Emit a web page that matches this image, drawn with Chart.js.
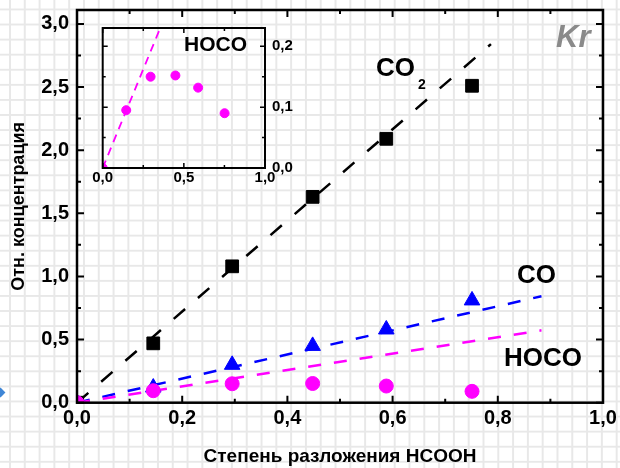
<!DOCTYPE html>
<html>
<head>
<meta charset="utf-8">
<script src="https://cdn.jsdelivr.net/npm/chart.js@4/dist/chart.umd.min.js"></script>
<style>
    body { margin: 0; }
    #wrap {
        position: relative;
        width: 620px;
        height: 468px;
        overflow: hidden;
        background-color: #fff;
        background-image:
            linear-gradient(to right, #e8e8e8 2px, transparent 2px),
            linear-gradient(to bottom, #e8e8e8 2px, transparent 2px);
        background-size: 14.8px 15.08px;
        background-position: 9px 8.5px;
        font-family: "Liberation Sans", Arial, sans-serif;
        font-weight: bold;
    }
    canvas { position: absolute; }
    #main { left: 0; top: 0; }
    #inset { left: 90px; top: 18px; }
    .lbl { position: absolute; line-height: 1; white-space: nowrap; color: #000; }
    .bullet {
        position: absolute; left: -3px; top: 389px; width: 7px; height: 7px;
        background: #3f86d6; transform: rotate(45deg);
    }
</style>
</head>
<body>
<div id="wrap">
    <div class="bullet"></div>
    <canvas id="main" width="620" height="468"></canvas>
    <canvas id="inset" width="215" height="180"></canvas>
    <div class="lbl" style="left:376px; top:54px; font-size:26px;">CO</div>
    <div class="lbl" style="left:418px; top:77px; font-size:14px;">2</div>
    <div class="lbl" style="left:517px; top:261px; font-size:26px;">CO</div>
    <div class="lbl" style="left:504px; top:344px; font-size:26px;">HOCO</div>
    <div class="lbl" style="left:184px; top:33px; font-size:21px;">HOCO</div>
    <div class="lbl" style="left:556px; top:21px; font-size:31px; font-style:italic; color:#8a8a8a;">Kr</div>
</div>
<script>
// degree of HCOOH decomposition (x) and relative concentrations
var fraction = [0, 0.145, 0.295, 0.448, 0.588, 0.751];
var co2 = [0, 0.47, 1.08, 1.63, 2.09, 2.51];
var co = [0, 0.12, 0.30, 0.45, 0.58, 0.81];
var hoco = [0, 0.095, 0.15, 0.152, 0.132, 0.09];

// dashed linear fits through the origin
var co2FitX = [0, 0.787];
var co2Fit = [0, 2.84];
var fitX = [0, 0.883];
var coFit = [0, 0.843];
var hocoFit = [0, 0.573];

var xTicks = [0, 0.2, 0.4, 0.6, 0.8, 1.0];
var yTicks = [0, 0.5, 1.0, 1.5, 2.0, 2.5, 3.0];
var insetXTicks = [0, 0.5, 1.0];
var insetYTicks = [0, 0.1, 0.2];

var FONT = "'Liberation Sans', Arial, sans-serif";

function pts(xs, ys) {
    return xs.map(function (x, i) { return { x: x, y: ys[i] }; });
}

function fmt(v) {
    return v.toFixed(1).replace(".", ",");
}

// box around the plot area with inward major and minor ticks on all sides
var frame = {
    id: "frame",
    afterDatasetsDraw: function (chart, args, opts) {
        var ctx = chart.ctx;
        var a = chart.chartArea;
        ctx.save();
        ctx.strokeStyle = "#000";
        ctx.lineWidth = opts.width;
        ctx.strokeRect(a.left, a.top, a.right - a.left, a.bottom - a.top);
        ctx.lineWidth = opts.tickWidth;

        function mark(scale, v, len) {
            var p = scale.getPixelForValue(v);
            ctx.beginPath();
            if (scale.isHorizontal()) {
                ctx.moveTo(p, a.bottom); ctx.lineTo(p, a.bottom - len);
                ctx.moveTo(p, a.top); ctx.lineTo(p, a.top + len);
            } else {
                ctx.moveTo(a.left, p); ctx.lineTo(a.left + len, p);
                ctx.moveTo(a.right, p); ctx.lineTo(a.right - len, p);
            }
            ctx.stroke();
        }

        [chart.scales.x, chart.scales.y].forEach(function (scale) {
            var vals = scale.ticks.map(function (t) { return t.value; });
            vals.forEach(function (v, i) {
                mark(scale, v, opts.major);
                if (i > 0) mark(scale, (v + vals[i - 1]) / 2, opts.minor);
            });
        });
        ctx.restore();
    }
};

function fixedTicks(list) {
    return function (scale) {
        scale.ticks = list.map(function (v) { return { value: v }; });
    };
}

// fixed axis box sizes, no extra room for overhanging labels
function boxHeight(h) {
    return function (s) { s.height = h; s.paddingLeft = 0; s.paddingRight = 0; };
}
function boxWidth(w) {
    return function (s) { s.width = w; s.paddingTop = 0; s.paddingBottom = 0; };
}

new Chart(document.getElementById("main"), {
    type: "scatter",
    data: {
        datasets: [
            {
                data: pts(fraction, hoco),
                pointStyle: "circle",
                pointRadius: 7,
                backgroundColor: "#ff00ff",
                borderColor: "#ff00ff",
            },
            {
                data: pts(fraction, co),
                pointStyle: "triangle",
                pointRadius: 9,
                backgroundColor: "#0000ff",
                borderColor: "#0000ff",
            },
            {
                data: pts(fraction, co2),
                pointStyle: "rect",
                pointRadius: 9,
                backgroundColor: "#000",
                borderColor: "#000",
            },
            {
                data: pts(fitX, hocoFit),
                showLine: true,
                pointRadius: 0,
                borderColor: "#ff00ff",
                borderWidth: 2.5,
                borderDash: [13, 13],
            },
            {
                data: pts(fitX, coFit),
                showLine: true,
                pointRadius: 0,
                borderColor: "#0000ff",
                borderWidth: 2.5,
                borderDash: [13, 13],
            },
            {
                data: pts(co2FitX, co2Fit),
                showLine: true,
                pointRadius: 0,
                borderColor: "#000",
                borderWidth: 2.5,
                borderDash: [15, 17],
            },
        ],
    },
    options: {
        responsive: false,
        animation: false,
        layout: { padding: { left: 0, top: 7.5, right: 17, bottom: 0 } },
        plugins: {
            legend: { display: false },
            tooltip: { enabled: false },
            frame: { width: 2.5, tickWidth: 2, major: 7, minor: 4 },
        },
        scales: {
            x: {
                type: "linear",
                min: 0,
                max: 1,
                afterBuildTicks: fixedTicks(xTicks),
                afterFit: boxHeight(65.3),
                grid: { display: false, drawTicks: false },
                border: { display: false },
                ticks: {
                    padding: 4,
                    color: "#000",
                    maxRotation: 0,
                    autoSkip: false,
                    font: { family: FONT, size: 20, weight: "bold" },
                    callback: fmt,
                },
                title: {
                    display: true,
                    text: "Степень разложения HCOOH",
                    color: "#000",
                    padding: { top: 0, bottom: 0 },
                    font: { family: FONT, size: 19, weight: "bold" },
                },
            },
            y: {
                type: "linear",
                min: 0,
                max: 3.11,
                afterBuildTicks: fixedTicks(yTicks),
                afterFit: boxWidth(77),
                grid: { display: false, drawTicks: false },
                border: { display: false },
                ticks: {
                    padding: 8,
                    color: "#000",
                    autoSkip: false,
                    font: { family: FONT, size: 20, weight: "bold" },
                    callback: fmt,
                },
                title: {
                    display: true,
                    text: "Отн. концентрация",
                    color: "#000",
                    padding: { top: 8, bottom: 0 },
                    font: { family: FONT, size: 18, weight: "bold" },
                },
            },
        },
    },
    plugins: [frame],
});

// inset: HOCO at a magnified scale
new Chart(document.getElementById("inset"), {
    type: "scatter",
    data: {
        datasets: [
            {
                data: pts(fraction, hoco),
                pointRadius: 4.5,
                backgroundColor: "#ff00ff",
                borderColor: "#ff00ff",
            },
            {
                data: pts(fitX, hocoFit),
                showLine: true,
                pointRadius: 0,
                borderColor: "#ff00ff",
                borderWidth: 1.8,
                borderDash: [8, 6],
            },
        ],
    },
    options: {
        responsive: false,
        animation: false,
        layout: { padding: { left: 12.7, top: 10, right: 0, bottom: 0 } },
        plugins: {
            legend: { display: false },
            tooltip: { enabled: false },
            frame: { width: 2, tickWidth: 1.5, major: 5, minor: 3 },
        },
        scales: {
            x: {
                type: "linear",
                min: 0,
                max: 1,
                afterBuildTicks: fixedTicks(insetXTicks),
                afterFit: boxHeight(30),
                grid: { display: false, drawTicks: false },
                border: { display: false },
                ticks: {
                    padding: 1,
                    color: "#000",
                    maxRotation: 0,
                    autoSkip: false,
                    font: { family: FONT, size: 15, weight: "bold" },
                    callback: fmt,
                },
            },
            y: {
                type: "linear",
                position: "right",
                min: 0,
                max: 0.23,
                afterBuildTicks: fixedTicks(insetYTicks),
                afterFit: boxWidth(40),
                grid: { display: false, drawTicks: false },
                border: { display: false },
                ticks: {
                    padding: 7,
                    color: "#000",
                    autoSkip: false,
                    font: { family: FONT, size: 15, weight: "bold" },
                    callback: fmt,
                },
            },
        },
    },
    plugins: [frame],
});
</script>
</body>
</html>
